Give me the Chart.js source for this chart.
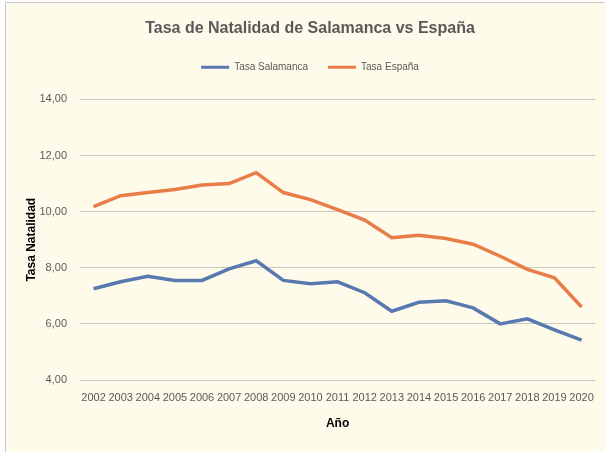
<!DOCTYPE html>
<html>
<head>
<meta charset="utf-8">
<script src="https://cdn.jsdelivr.net/npm/chart.js@4.4.1/dist/chart.umd.min.js"></script>
<style>
  html, body { margin: 0; padding: 0; background: #ffffff; }
  #wrap { position: absolute; left: 5px; top: 2px; width: 599px; height: 449px;
          border-left: 1px solid #c8c8c8; border-top: 1px solid #c8c8c8; background: #fffbeb; }
  canvas { display: block; }
</style>
</head>
<body>
<div id="wrap"><canvas id="c" width="599" height="449"></canvas></div>
<script>
const years = ["2002","2003","2004","2005","2006","2007","2008","2009","2010","2011","2012","2013","2014","2015","2016","2017","2018","2019","2020"];
const tasaSalamanca = [7.25, 7.50, 7.70, 7.55, 7.55, 7.96, 8.25, 7.55, 7.43, 7.50, 7.11, 6.45, 6.77, 6.82, 6.57, 6.00, 6.18, 5.79, 5.42];
const tasaEspana = [10.18, 10.57, 10.68, 10.79, 10.95, 11.00, 11.39, 10.68, 10.43, 10.07, 9.70, 9.07, 9.16, 9.04, 8.84, 8.41, 7.94, 7.64, 6.60];
const yTicks = [4, 6, 8, 10, 12, 14];

const FONT = "'Liberation Sans', Arial, sans-serif";
const GRAY = '#595959';

new Chart(document.getElementById('c'), {
  type: 'line',
  data: {
    labels: years,
    datasets: [
      { label: 'Tasa Salamanca', data: tasaSalamanca, borderColor: '#5878b0', backgroundColor: '#5878b0', borderWidth: 3.5, pointRadius: 0, tension: 0 },
      { label: 'Tasa España', data: tasaEspana, borderColor: '#e87d47', backgroundColor: '#e87d47', borderWidth: 3.5, pointRadius: 0, tension: 0 }
    ]
  },
  options: {
    responsive: false,
    animation: false,
    layout: { padding: { top: 0, right: 7, bottom: 20, left: 16 } },
    plugins: {
      title: {
        display: true,
        text: 'Tasa de Natalidad de Salamanca vs España',
        color: GRAY,
        font: { family: FONT, size: 16, weight: 'bold' },
        padding: { top: 16, bottom: 4 }
      },
      subtitle: {
        display: true,
        text: '',
        weight: 500,
        font: { size: 1 },
        padding: { top: 0, bottom: 16 }
      },
      legend: {
        display: true,
        position: 'top',
        labels: {
          color: GRAY,
          font: { family: FONT, size: 10 },
          boxWidth: 28,
          boxHeight: 3,
          padding: 20,
          generateLabels: (chart) => chart.data.datasets.map((d, i) => ({
            text: d.label, fillStyle: d.borderColor, strokeStyle: d.borderColor,
            lineWidth: 0, hidden: false, datasetIndex: i, fontColor: GRAY
          }))
        }
      },
      tooltip: { enabled: false }
    },
    scales: {
      x: {
        offset: true,
        grid: { display: false, drawTicks: false },
        border: { display: false },
        afterFit: (s) => { s.height = 52; },
        ticks: { color: GRAY, font: { family: FONT, size: 11 }, maxRotation: 0, autoSkip: false, padding: 11 },
        title: { display: true, text: 'Año', color: '#000000', font: { family: FONT, size: 12, weight: 'bold' }, padding: { top: 4, bottom: 1 } }
      },
      y: {
        min: 4, max: 14,
        afterBuildTicks: (s) => { s.ticks = yTicks.map(v => ({ value: v })); },
        afterFit: (s) => { s.width = 58; },
        grid: { color: '#cbc8bf', lineWidth: 1, drawTicks: false },
        border: { display: false },
        ticks: { color: GRAY, font: { family: FONT, size: 11 }, padding: 13,
                 callback: (v) => Number(v).toFixed(2).replace('.', ',') },
        title: { display: true, text: 'Tasa Natalidad', color: '#000000', font: { family: FONT, size: 12, weight: 'bold' }, padding: { top: 2, bottom: 2 } }
      }
    }
  }
});
</script>
</body>
</html>
